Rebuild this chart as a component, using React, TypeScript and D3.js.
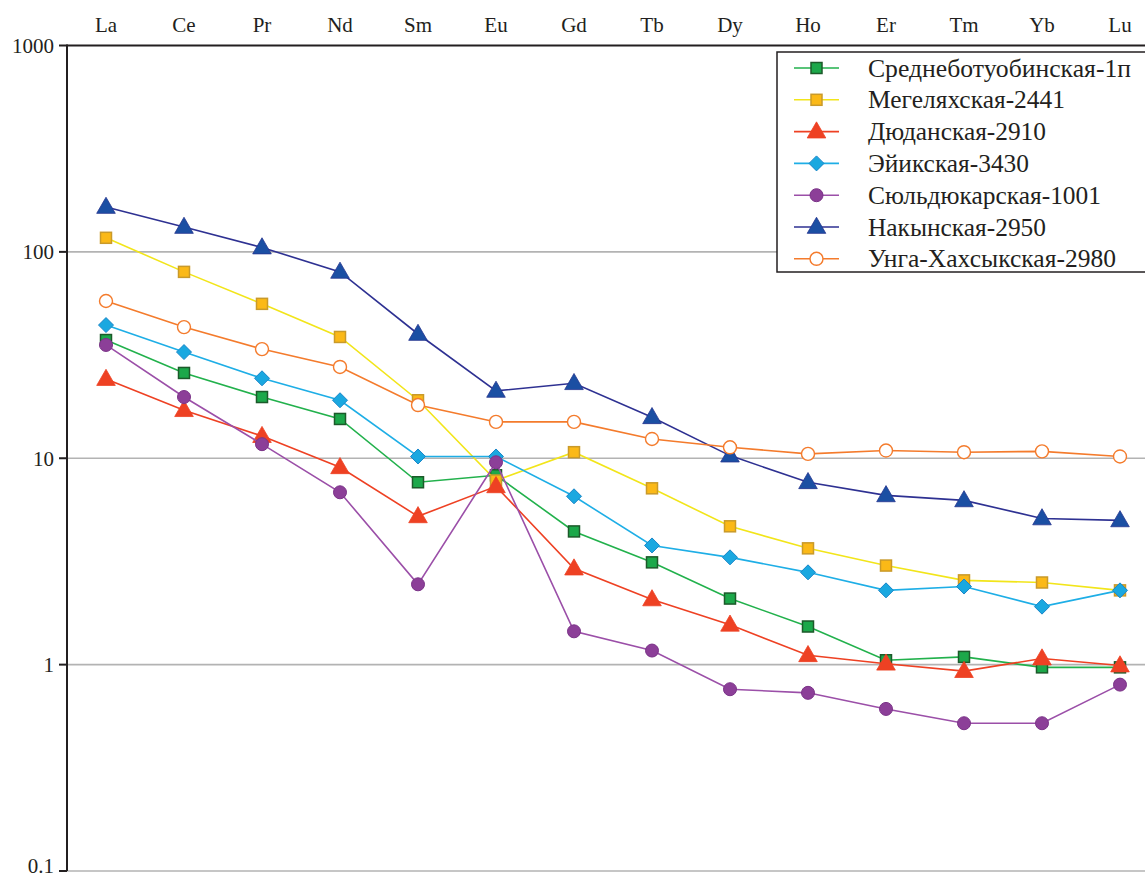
import React from "react";
import * as d3 from "d3";

// Chondrite-normalised REE patterns
const elements = ["La", "Ce", "Pr", "Nd", "Sm", "Eu", "Gd", "Tb", "Dy", "Ho", "Er", "Tm", "Yb", "Lu"];

const srednebotuobinskaya = [37.4, 25.9, 19.8, 15.5, 7.65, 8.27, 4.42, 3.13, 2.09, 1.53, 1.05, 1.09, 0.97, 0.97];
const megelyakhskaya = [117, 80, 56, 38.7, 19.1, 7.8, 10.7, 7.15, 4.68, 3.66, 3.02, 2.56, 2.5, 2.29];
const dyudanskaya = [24.2, 17.1, 12.8, 9.04, 5.23, 7.31, 2.92, 2.07, 1.56, 1.11, 1.01, 0.93, 1.07, 0.99];
const eyikskaya = [44.2, 32.7, 24.4, 19.1, 10.2, 10.2, 6.54, 3.78, 3.31, 2.8, 2.29, 2.39, 1.91, 2.29];
const syuldyukarskaya = [35.4, 19.8, 11.7, 6.84, 2.45, 9.56, 1.45, 1.17, 0.76, 0.73, 0.61, 0.52, 0.52, 0.8];
const nakynskaya = [165, 132, 105, 80, 40, 21.2, 23.1, 15.8, 10.3, 7.65, 6.61, 6.25, 5.11, 5.0];
const ungaKhakhsykskaya = [57.8, 43.2, 33.8, 27.7, 18.1, 15.0, 15.0, 12.4, 11.3, 10.5, 10.9, 10.7, 10.8, 10.2];

const yTicks = [0.1, 1, 10, 100, 1000];
const yTickLabels = ["0.1", "1", "10", "100", "1000"];

type Marker = "square" | "triangle" | "diamond" | "circle" | "hollow";

interface Series {
  name: string;
  values: number[];
  line: string;
  fill: string;
  stroke: string;
  marker: Marker;
  labelWidth: number;
}

const series: Series[] = [
  { name: "Среднеботуобинская-1п", values: srednebotuobinskaya, line: "#22b14c", fill: "#1ca84a", stroke: "#1c5a2a", marker: "square", labelWidth: 263 },
  { name: "Мегеляхская-2441", values: megelyakhskaya, line: "#f2e51a", fill: "#fbb917", stroke: "#c99a2a", marker: "square", labelWidth: 197 },
  { name: "Дюданская-2910", values: dyudanskaya, line: "#ee4123", fill: "#ee4123", stroke: "#ee4123", marker: "triangle", labelWidth: 178 },
  { name: "Эйикская-3430", values: eyikskaya, line: "#1eaee6", fill: "#1aa8e0", stroke: "#1a86c8", marker: "diamond", labelWidth: 161 },
  { name: "Сюльдюкарская-1001", values: syuldyukarskaya, line: "#9b4fa8", fill: "#8c3f98", stroke: "#7b3388", marker: "circle", labelWidth: 233 },
  { name: "Накынская-2950", values: nakynskaya, line: "#2e3192", fill: "#1b4fa3", stroke: "#26358f", marker: "triangle", labelWidth: 178 },
  { name: "Унга-Хахсыкская-2980", values: ungaKhakhsykskaya, line: "#f47b2c", fill: "#ffffff", stroke: "#f47b2c", marker: "hollow", labelWidth: 248 },
];

const W = 1145;
const H = 878;
const left = 67;
const top = 45.5;
const bottom = 871;
const font = "'Liberation Serif', 'DejaVu Serif', serif";

const x = d3.scalePoint<string>().domain(elements).range([106, 1120]);
const y = d3.scaleLog().domain([0.1, 1000]).range([bottom, top]);

function MarkerShape({ kind, cx, cy, fill, stroke }: { kind: Marker; cx: number; cy: number; fill: string; stroke: string }) {
  if (kind === "square") {
    return <rect x={cx - 5.5} y={cy - 5.5} width={11} height={11} fill={fill} stroke={stroke} strokeWidth={1.5} />;
  }
  if (kind === "triangle") {
    const s = d3.symbol(d3.symbolTriangle, 150)();
    return <path d={s || ""} transform={`translate(${cx},${cy + 1})`} fill={fill} stroke={stroke} strokeWidth={0.8} />;
  }
  if (kind === "diamond") {
    const r = 7.5;
    return (
      <path
        d={`M${cx},${cy - r}L${cx + r},${cy}L${cx},${cy + r}L${cx - r},${cy}Z`}
        fill={fill}
        stroke={stroke}
        strokeWidth={1}
      />
    );
  }
  if (kind === "circle") {
    return <circle cx={cx} cy={cy} r={6.5} fill={fill} stroke={stroke} strokeWidth={1} />;
  }
  return <circle cx={cx} cy={cy} r={6.5} fill="#ffffff" stroke={stroke} strokeWidth={1.4} />;
}

export default function App() {
  const line = d3
    .line<number>()
    .x((_, i) => x(elements[i]) as number)
    .y((v) => y(v));

  const legendX = 777;
  const legendY = 52;
  const legendRow = 31.8;
  const legendTextX = 868;

  return (
    <svg width={W} height={H} style={{ position: "absolute", left: 0, top: 0, background: "#fff", fontFamily: font }}>
      {/* horizontal gridlines */}
      {yTicks.map((t) => (
        <line
          key={`g${t}`}
          x1={left}
          x2={W}
          y1={y(t)}
          y2={y(t)}
          stroke={t === 1000 ? "#231f20" : "#b3b3b3"}
          strokeWidth={t === 1000 ? 1.8 : 1.6}
        />
      ))}

      {/* y axis */}
      <line x1={left} x2={left} y1={top - 1} y2={bottom} stroke="#231f20" strokeWidth={2} />
      {yTicks.map((t, i) => (
        <g key={`t${t}`}>
          <line x1={left - 8} x2={left} y1={y(t)} y2={y(t)} stroke="#231f20" strokeWidth={2} />
          <text
            x={left - 13}
            y={Math.min(y(t), 866)}
            dy="0.35em"
            textAnchor="end"
            fontSize={21}
            fill="#231f20"
          >
            {yTickLabels[i]}
          </text>
        </g>
      ))}

      {/* element labels along the top */}
      {elements.map((e) => (
        <text key={e} x={x(e)} y={32} textAnchor="middle" fontSize={21} fill="#231f20">
          {e}
        </text>
      ))}

      {/* series */}
      {series.map((s) => (
        <g key={s.name}>
          <path d={line(s.values) || ""} fill="none" stroke={s.line} strokeWidth={1.6} />
          {s.values.map((v, i) => (
            <MarkerShape key={i} kind={s.marker} cx={x(elements[i]) as number} cy={y(v)} fill={s.fill} stroke={s.stroke} />
          ))}
        </g>
      ))}

      {/* legend */}
      <rect x={legendX} y={legendY} width={W - legendX + 10} height={220} fill="#ffffff" stroke="#231f20" strokeWidth={1.5} />
      {series.map((s, i) => {
        const cy = legendY + 16 + i * legendRow;
        return (
          <g key={`l${s.name}`}>
            <line x1={794} x2={839} y1={cy} y2={cy} stroke={s.line} strokeWidth={1.6} />
            <MarkerShape kind={s.marker} cx={816.5} cy={cy} fill={s.fill} stroke={s.stroke} />
            <text
              x={legendTextX}
              y={cy}
              dy="0.34em"
              fontSize={25}
              fill="#231f20"
              textLength={s.labelWidth}
              lengthAdjust="spacingAndGlyphs"
            >
              {s.name}
            </text>
          </g>
        );
      })}
    </svg>
  );
}
